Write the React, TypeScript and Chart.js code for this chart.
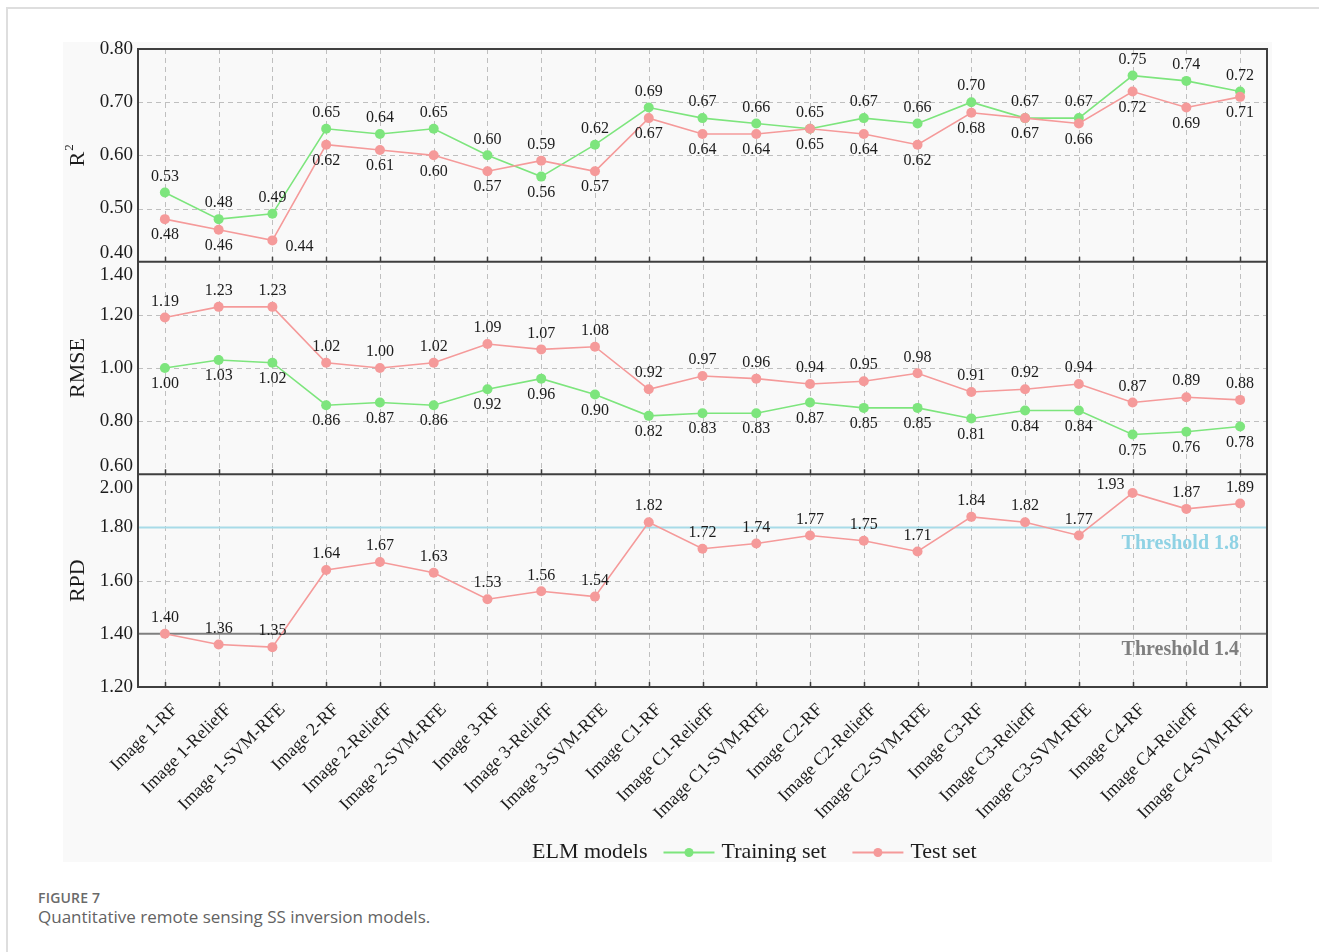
import React, { useEffect, useRef } from "react";
import { Chart, registerables } from "chart.js";

Chart.register(...registerables);

// ---- data ----
const models = [
  "Image 1-RF", "Image 1-ReliefF", "Image 1-SVM-RFE",
  "Image 2-RF", "Image 2-ReliefF", "Image 2-SVM-RFE",
  "Image 3-RF", "Image 3-ReliefF", "Image 3-SVM-RFE",
  "Image C1-RF", "Image C1-ReliefF", "Image C1-SVM-RFE",
  "Image C2-RF", "Image C2-ReliefF", "Image C2-SVM-RFE",
  "Image C3-RF", "Image C3-ReliefF", "Image C3-SVM-RFE",
  "Image C4-RF", "Image C4-ReliefF", "Image C4-SVM-RFE",
];

const r2Training = [0.53, 0.48, 0.49, 0.65, 0.64, 0.65, 0.60, 0.56, 0.62, 0.69, 0.67, 0.66, 0.65, 0.67, 0.66, 0.70, 0.67, 0.67, 0.75, 0.74, 0.72];
const r2Test = [0.48, 0.46, 0.44, 0.62, 0.61, 0.60, 0.57, 0.59, 0.57, 0.67, 0.64, 0.64, 0.65, 0.64, 0.62, 0.68, 0.67, 0.66, 0.72, 0.69, 0.71];
const rmseTraining = [1.00, 1.03, 1.02, 0.86, 0.87, 0.86, 0.92, 0.96, 0.90, 0.82, 0.83, 0.83, 0.87, 0.85, 0.85, 0.81, 0.84, 0.84, 0.75, 0.76, 0.78];
const rmseTest = [1.19, 1.23, 1.23, 1.02, 1.00, 1.02, 1.09, 1.07, 1.08, 0.92, 0.97, 0.96, 0.94, 0.95, 0.98, 0.91, 0.92, 0.94, 0.87, 0.89, 0.88];
const rpdTest = [1.40, 1.36, 1.35, 1.64, 1.67, 1.63, 1.53, 1.56, 1.54, 1.82, 1.72, 1.74, 1.77, 1.75, 1.71, 1.84, 1.82, 1.77, 1.93, 1.87, 1.89];

const r2Ticks = [0.4, 0.5, 0.6, 0.7, 0.8];
const rmseTicks = [0.6, 0.8, 1.0, 1.2, 1.4];
const rpdTicks = [1.2, 1.4, 1.6, 1.8, 2.0];
const rpdThresholds = [1.8, 1.4];

const legendTitle = "ELM models";
const seriesNames = ["Training set", "Test set"];

// ---- styles ----
const SERIF = '"Liberation Serif", "Times New Roman", Times, serif';
const SANS = '"Open Sans", "Noto Sans", Arial, sans-serif';
const GREEN = "#7de57d";
const PINK = "#f59a9a";
const TEXT = "#1c1c1c";
const GRID = "#bfbfbf";
const FRAME = "#3f3f3f";
const thresholdLineColors = ["#a8dbe8", "#7f7f7f"];
const thresholdTextColors = ["#8fd2e4", "#7f7f7f"];

const panels = [
  { id: "yR2", title: "R", sup: "2", ticks: r2Ticks },
  { id: "yRMSE", title: "RMSE", sup: "", ticks: rmseTicks },
  { id: "yRPD", title: "RPD", sup: "", ticks: rpdTicks },
];

function series(data: number[], axis: string, color: string, role: string, order: number) {
  return {
    data,
    yAxisID: axis,
    role,
    order,
    borderColor: color,
    backgroundColor: color,
    borderWidth: 1.6,
    pointRadius: 5,
    pointBorderWidth: 0,
    pointBackgroundColor: color,
    tension: 0,
  };
}

const datasets: any[] = [
  series(r2Test, "yR2", PINK, "test", 0),
  series(r2Training, "yR2", GREEN, "train", 1),
  series(rmseTest, "yRMSE", PINK, "test", 0),
  series(rmseTraining, "yRMSE", GREEN, "train", 1),
  series(rpdTest, "yRPD", PINK, "test", 0),
];

function yScale(p: { ticks: number[] }, weight: number) {
  return {
    type: "linear",
    position: "left",
    stack: "panels",
    stackWeight: 1,
    weight,
    min: p.ticks[0],
    max: p.ticks[p.ticks.length - 1],
    grid: { display: false },
    border: { display: false },
    ticks: { display: false },
    afterFit(s: any) {
      s.width = 75;
    },
  };
}

const decor = {
  id: "decor",
  beforeDatasetsDraw(chart: any) {
    const { ctx, chartArea: ca, scales } = chart;
    const xs = scales.x;
    ctx.save();

    // dashed grid
    ctx.strokeStyle = GRID;
    ctx.lineWidth = 1;
    ctx.setLineDash([5, 4]);
    ctx.beginPath();
    models.forEach((_, i) => {
      const px = Math.round(xs.getPixelForValue(i)) + 0.5;
      ctx.moveTo(px, ca.top);
      ctx.lineTo(px, ca.bottom);
    });
    panels.forEach((p) => {
      const s = scales[p.id];
      p.ticks.slice(1, -1).forEach((t) => {
        if (p.id === "yRPD" && rpdThresholds.includes(t)) return;
        const py = Math.round(s.getPixelForValue(t)) + 0.5;
        ctx.moveTo(ca.left, py);
        ctx.lineTo(ca.right, py);
      });
    });
    ctx.stroke();
    ctx.setLineDash([]);

    // RPD thresholds
    const rpd = scales.yRPD;
    rpdThresholds.forEach((v, k) => {
      const py = rpd.getPixelForValue(v);
      ctx.strokeStyle = thresholdLineColors[k];
      ctx.lineWidth = 2;
      ctx.beginPath();
      ctx.moveTo(ca.left, py);
      ctx.lineTo(ca.right, py);
      ctx.stroke();
      ctx.fillStyle = thresholdTextColors[k];
      ctx.font = `bold 20px ${SERIF}`;
      ctx.textAlign = "right";
      ctx.textBaseline = "middle";
      ctx.fillText(`Threshold ${v}`, ca.right - 28, py + 16);
    });
    ctx.restore();
  },

  afterDatasetsDraw(chart: any) {
    const { ctx, chartArea: ca, scales } = chart;
    const xs = scales.x;
    ctx.save();

    // frame and panel separators
    ctx.strokeStyle = FRAME;
    ctx.lineWidth = 2;
    ctx.strokeRect(ca.left, ca.top, ca.right - ca.left, ca.bottom - ca.top);
    ctx.beginPath();
    panels.slice(1).forEach((p) => {
      const s = scales[p.id];
      ctx.moveTo(ca.left, s.top);
      ctx.lineTo(ca.right, s.top);
    });
    ctx.stroke();

    // inner tick marks at the bottom of each panel
    ctx.lineWidth = 1.5;
    ctx.beginPath();
    panels.forEach((p) => {
      const s = scales[p.id];
      models.forEach((_, i) => {
        const px = Math.round(xs.getPixelForValue(i)) + 0.5;
        ctx.moveTo(px, s.bottom);
        ctx.lineTo(px, s.bottom - 5);
      });
    });
    ctx.stroke();

    // value labels: above the higher series, below the lower one;
    // nudged sideways where they would run into a panel edge
    ctx.fillStyle = TEXT;
    ctx.font = `16px ${SERIF}`;
    ctx.textAlign = "center";
    ctx.textBaseline = "middle";
    chart.data.datasets.forEach((ds: any, di: number) => {
      const meta = chart.getDatasetMeta(di);
      const s = scales[ds.yAxisID];
      const partner = chart.data.datasets.find(
        (o: any) => o !== ds && o.yAxisID === ds.yAxisID
      );
      meta.data.forEach((pt: any, i: number) => {
        const v = ds.data[i];
        let above = true;
        if (partner) {
          const pv = partner.data[i];
          above = v > pv || (v === pv && ds.role === "train");
        }
        let lx = pt.x;
        let ly = pt.y + (above ? -16 : 16);
        if (above && ly - 7 < s.top) {
          lx = pt.x - 22;
          ly = pt.y - 8;
        } else if (!above && ly + 7 > s.bottom) {
          lx = pt.x + 27;
          ly = pt.y + 6;
        }
        ctx.fillText(v.toFixed(2), lx, ly);
      });
    });

    // y tick labels
    ctx.font = `19px ${SERIF}`;
    ctx.textAlign = "right";
    panels.forEach((p, pi) => {
      const s = scales[p.id];
      p.ticks.forEach((t, ti) => {
        let y = s.getPixelForValue(t);
        let base = "middle";
        if (ti === p.ticks.length - 1 && pi > 0) {
          base = "top";
          y = s.top + 4;
        } else if (ti === 0 && pi < panels.length - 1) {
          base = "bottom";
          y = s.bottom + 1;
        }
        ctx.textBaseline = base;
        ctx.fillText(t.toFixed(2), ca.left - 5, y);
      });
    });

    // axis titles
    panels.forEach((p) => {
      const s = scales[p.id];
      ctx.save();
      ctx.translate(ca.left - 60, (s.top + s.bottom) / 2);
      ctx.rotate(-Math.PI / 2);
      ctx.textBaseline = "middle";
      ctx.font = `22px ${SERIF}`;
      if (p.sup) {
        const wMain = ctx.measureText(p.title).width;
        ctx.font = `13px ${SERIF}`;
        const wSup = ctx.measureText(p.sup).width;
        const start = -(wMain + wSup + 1) / 2;
        ctx.textAlign = "left";
        ctx.font = `22px ${SERIF}`;
        ctx.fillText(p.title, start, 0);
        ctx.font = `13px ${SERIF}`;
        ctx.fillText(p.sup, start + wMain + 1, -8);
      } else {
        ctx.textAlign = "center";
        ctx.fillText(p.title, 0, 0);
      }
      ctx.restore();
    });

    // category labels, rotated 45°
    ctx.font = `18px ${SERIF}`;
    ctx.textAlign = "right";
    ctx.textBaseline = "middle";
    models.forEach((m, i) => {
      const px = xs.getPixelForValue(i);
      ctx.save();
      ctx.translate(px + 10, ca.bottom + 20);
      ctx.rotate(-Math.PI / 4);
      ctx.fillText(m, 0, 0);
      ctx.restore();
    });

    // legend
    const ly = ca.bottom + 165.5;
    let lx = 469;
    ctx.font = `22px ${SERIF}`;
    ctx.textAlign = "left";
    ctx.textBaseline = "middle";
    ctx.fillStyle = TEXT;
    ctx.fillText(legendTitle, lx, ly);
    lx += ctx.measureText(legendTitle).width + 16;
    [GREEN, PINK].forEach((c, k) => {
      ctx.strokeStyle = c;
      ctx.lineWidth = 2;
      ctx.beginPath();
      ctx.moveTo(lx, ly);
      ctx.lineTo(lx + 51, ly);
      ctx.stroke();
      ctx.fillStyle = c;
      ctx.beginPath();
      ctx.arc(lx + 25.5, ly, 4.5, 0, Math.PI * 2);
      ctx.fill();
      lx += 58;
      ctx.fillStyle = TEXT;
      ctx.fillText(seriesNames[k], lx, ly);
      lx += ctx.measureText(seriesNames[k]).width + 26;
    });

    ctx.restore();
  },
};

export default function App() {
  const ref = useRef<HTMLCanvasElement>(null);

  useEffect(() => {
    if (!ref.current) return;
    const chart = new Chart(ref.current, {
      type: "line",
      data: { labels: models, datasets },
      options: {
        responsive: false,
        animation: false,
        devicePixelRatio: 1,
        events: [],
        layout: { padding: { top: 19, right: 1, left: 0, bottom: 0 } },
        plugins: { legend: { display: false }, tooltip: { enabled: false } },
        scales: {
          x: {
            type: "category",
            offset: true,
            grid: { display: false },
            border: { display: false },
            ticks: { display: false },
            afterFit(s: any) {
              s.height = 175;
            },
          },
          yRPD: yScale(panels[2], 1),
          yRMSE: yScale(panels[1], 2),
          yR2: yScale(panels[0], 3),
        },
      } as any,
      plugins: [decor],
    });
    return () => chart.destroy();
  }, []);

  return (
    <div style={{ position: "fixed", inset: 0, overflow: "hidden", background: "#fff" }}>
      <div
        style={{
          position: "absolute",
          left: 6,
          top: 7,
          right: -10,
          bottom: -10,
          borderTop: "2px solid #dedede",
          borderLeft: "2px solid #dedede",
        }}
      />
      <div
        style={{ position: "absolute", left: 63, top: 42, width: 1209, height: 820, background: "#f9f9f9" }}
      />
      <canvas
        ref={ref}
        width={1209}
        height={832}
        style={{ position: "absolute", left: 63, top: 30, width: 1209, height: 832, display: "block" }}
      />
      <div
        style={{
          position: "absolute",
          left: 38,
          top: 889,
          font: `600 14px/18px ${SANS}`,
          color: "#6a6a6a",
          letterSpacing: 0.2,
        }}
      >
        FIGURE 7
      </div>
      <div
        style={{
          position: "absolute",
          left: 38,
          top: 906,
          font: `17px/22px ${SANS}`,
          color: "#636363",
        }}
      >
        Quantitative remote sensing SS inversion models.
      </div>
    </div>
  );
}
